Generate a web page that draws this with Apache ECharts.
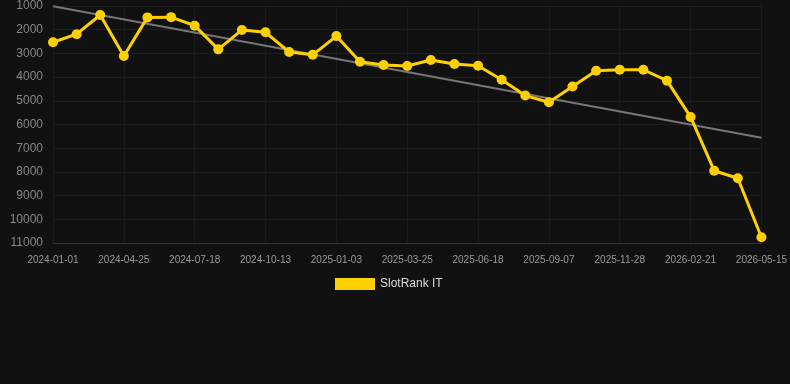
<!DOCTYPE html>
<html>
<head>
<meta charset="utf-8">
<script src="https://cdn.jsdelivr.net/npm/echarts@6/dist/echarts.min.js"></script>
<style>
  html, body { margin: 0; padding: 0; background: #111111; }
  #chart { width: 790px; height: 384px; }
</style>
</head>
<body>
<div id="chart"></div>
<script>
// dates: only every third one is shown on the axis
const dates = [
  "2024-01-01", "2024-02-08", "2024-03-18", "2024-04-25", "2024-05-23", "2024-06-20",
  "2024-07-18", "2024-08-16", "2024-09-14", "2024-10-13", "2024-11-09", "2024-12-07",
  "2025-01-03", "2025-01-30", "2025-02-26", "2025-03-25", "2025-04-22", "2025-05-21",
  "2025-06-18", "2025-07-15", "2025-08-11", "2025-09-07", "2025-10-04", "2025-10-31",
  "2025-11-28", "2025-12-25", "2026-01-23", "2026-02-21", "2026-03-20", "2026-04-17",
  "2026-05-15"
];
const ranks = [
  2530, 2190, 1380, 3110, 1480, 1470, 1830, 2830, 2010, 2110, 2940, 3060,
  2270, 3350, 3490, 3530, 3280, 3450, 3520, 4110, 4780, 5060, 4400, 3730,
  3690, 3690, 4150, 5680, 7950, 8270, 10760
];
// trend line read at its two ends
const trendEnds = [1015, 6555];
const seriesName = "SlotRank IT";

let trendData = dates.map(function (d, i) {
  if (i === 0) return trendEnds[0];
  if (i === dates.length - 1) return trendEnds[1];
  return null;
});

const chart = echarts.init(document.getElementById("chart"));
chart.setOption({
  backgroundColor: "#111111",
  animation: false,
  textStyle: { fontFamily: "Liberation Sans, Arial, sans-serif" },
  grid: { left: 53, right: 28, top: 6, bottom: 141 },
  legend: {
    top: 273,
    left: 330,
    data: [seriesName],
    itemWidth: 40,
    itemHeight: 12,
    icon: "rect",
    textStyle: { color: "#dddddd", fontSize: 12 }
  },
  xAxis: {
    type: "category",
    data: dates,
    boundaryGap: false,
    axisLine: { lineStyle: { color: "#333333" } },
    axisTick: { show: false },
    axisLabel: { color: "#999999", fontSize: 10, margin: 12, interval: 2 },
    splitLine: { show: true, interval: 2, lineStyle: { color: "#1b1b1b" } }
  },
  yAxis: {
    type: "value",
    inverse: true,
    min: 1000,
    max: 11000,
    interval: 1000,
    axisLine: { show: false },
    axisTick: { show: false },
    axisLabel: {
      color: "#888888",
      fontSize: 12,
      margin: 10,
      formatter: function (v) { return String(v); }
    },
    splitLine: { lineStyle: { color: "#1e1e1e" } }
  },
  series: [
    {
      name: "trend",
      type: "line",
      data: trendData,
      connectNulls: true,
      symbol: "none",
      lineStyle: { color: "#777777", width: 2 },
      z: 1
    },
    {
      name: seriesName,
      type: "line",
      data: ranks,
      symbol: "circle",
      symbolSize: 10,
      itemStyle: { color: "#FFD000" },
      lineStyle: { color: "#FFD000", width: 3 },
      z: 2
    }
  ]
});
</script>
</body>
</html>
